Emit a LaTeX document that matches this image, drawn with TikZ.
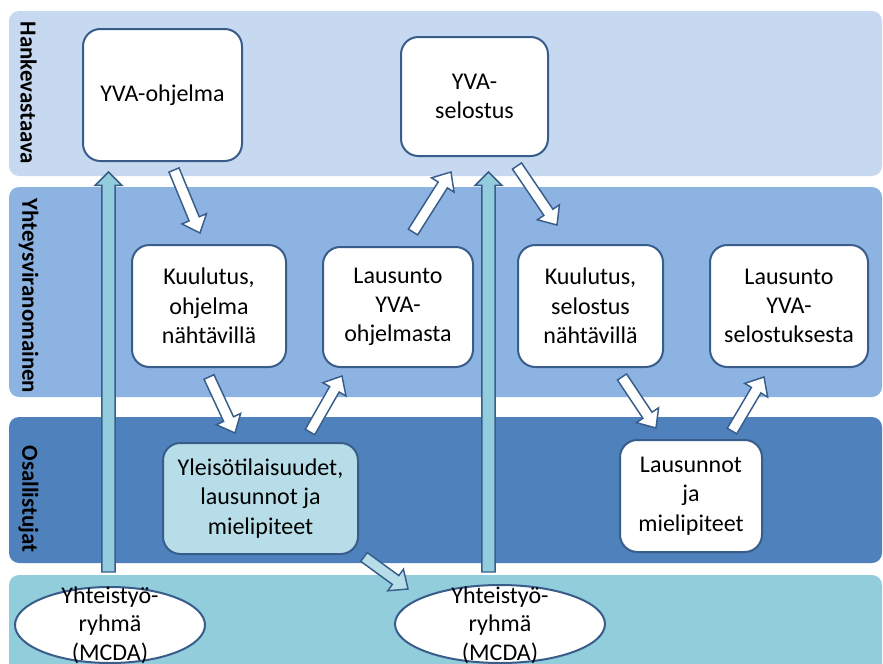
\documentclass[tikz,border=0pt]{standalone}
\usepackage{fontspec}
\setmainfont{Carlito}
\usetikzlibrary{calc,shapes.geometric}
\definecolor{bandA}{HTML}{C6D9F0}
\definecolor{bandB}{HTML}{8DB3E2}
\definecolor{bandC}{HTML}{4F81BD}
\definecolor{bandD}{HTML}{92CDDC}
\definecolor{edge}{HTML}{385D8A}
\definecolor{paleFill}{HTML}{B7DEE8}
\definecolor{vertFill}{HTML}{93CDDD}
\newcommand{\blockarr}[6]{% from, to, fill, half shaft, half head, head length (pt)
  \coordinate (ba-n) at ($(#2)!#6pt!(#1)$);
  \draw[barr,fill=#3] ($(#1)!#4pt!90:(#2)$) -- ($(ba-n)!#4pt!90:(#2)$) -- ($(ba-n)!#5pt!90:(#2)$) -- (#2) -- ($(ba-n)!#5pt!-90:(#2)$) -- ($(ba-n)!#4pt!-90:(#2)$) -- ($(#1)!#4pt!-90:(#2)$) -- cycle;}
\tikzset{
  band/.style={rounded corners=7.5pt, draw=none},
  sidelabel/.style={rotate=-90, font=\bfseries\fontsize{17.2}{21}\selectfont, text=black},
  box/.style 2 args={draw=edge, line width=1.5pt, fill=white, rounded corners=13pt,
     minimum width=#1*0.75pt, minimum height=#2*0.75pt, align=center,
     font=\fontsize{18}{22}\selectfont, inner sep=0pt},
  ell/.style 2 args={ellipse, draw=edge, line width=1.5pt, fill=white,
     minimum width=#1*0.75pt, minimum height=#2*0.75pt, inner sep=0pt},
  elltext/.style={align=center, font=\fontsize{18}{21.5}\selectfont, inner sep=0pt},
  barr/.style={draw=edge, line width=1.1pt, line join=miter},
}
\begin{document}
\begin{tikzpicture}[x=0.75pt,y=-0.75pt]
\useasboundingbox (0,0) rectangle (883,664);
\clip (0,0) rectangle (883,664);
% bands
\fill[band, bandA] (9,11) rectangle (882,176);
\fill[band, bandB] (9,187) rectangle (882,397);
\fill[band, bandC] (9,417) rectangle (882,563);
\fill[band, bandD] (9,575) rectangle (882,720);
% side labels
\node[sidelabel] (lh) at (28.5,93) {Hankevastaava};
\node[sidelabel] (ly) at (28.5,296) {Yhteysviranomainen};
\node[sidelabel] (lo) at (28.5,499) {Osallistujat};
% boxes
\node[box={159}{132}] (ohj) at (162.5,95) {YVA-ohjelma};
\node[box={147}{119}] (sel) at (474.5,96.5) {YVA-\\selostus};
\node[box={154}{122}] (kuu1) at (209,306) {Kuulutus,\\ohjelma\\nähtävillä};
\node[box={150}{120}] (lau1) at (398,307) {Lausunto\\YVA-\\ohjelmasta};
\node[box={145}{122}] (kuu2) at (590.5,306) {Kuulutus,\\selostus\\nähtävillä};
\node[box={158}{122}] (lau2) at (789,306) {Lausunto\\YVA-\\selostuksesta};
\node[box={195}{111}, fill=paleFill] (yle) at (260.5,498.5) {Yleisötilaisuudet,\\lausunnot ja\\mielipiteet};
\node[box={142}{112}] (lsn) at (691,496) {Lausunnot\\ja\\mielipiteet};
% ellipses
\node[ell={190}{76}] (e1) at (110,625) {};
\node[elltext] (e1t) at (110,625) {Yhteistyö-\\ryhmä\\(MCDA)};
\node[ell={210}{78}] (e2) at (500,624) {};
\node[elltext] (e2t) at (500,625) {Yhteistyö-\\ryhmä\\(MCDA)};
% arrow end coordinates
\coordinate (v1a) at (108.5,572); \coordinate (v1b) at (108.5,172);
\coordinate (v2a) at (488.5,572); \coordinate (v2b) at (488.5,172);
\coordinate (a1a) at (174,170); \coordinate (a1b) at (200,233);
\coordinate (a2a) at (209,377); \coordinate (a2b) at (235,433);
\coordinate (a3a) at (310,432); \coordinate (a3b) at (342,376);
\coordinate (a4a) at (413,232); \coordinate (a4b) at (451,172);
\coordinate (a5a) at (517,166); \coordinate (a5b) at (557,225);
\coordinate (a6a) at (622,377); \coordinate (a6b) at (656,428);
\coordinate (a7a) at (732,431); \coordinate (a7b) at (764,377);
\coordinate (a8a) at (364,557); \coordinate (a8b) at (408,589);
% vertical arrows
\blockarr{v1a}{v1b}{vertFill}{4.9}{10}{10}
\blockarr{v2a}{v2b}{vertFill}{4.9}{10}{10}
% diagonal arrows
\blockarr{a1a}{a1b}{white}{4.1}{10}{11.5}
\blockarr{a2a}{a2b}{white}{4.1}{10}{11.5}
\blockarr{a3a}{a3b}{white}{4.1}{10}{11.5}
\blockarr{a4a}{a4b}{white}{4.1}{10}{11.5}
\blockarr{a5a}{a5b}{white}{4.1}{10}{11.5}
\blockarr{a6a}{a6b}{white}{4.1}{10}{11.5}
\blockarr{a7a}{a7b}{white}{4.1}{10}{11.5}
\blockarr{a8a}{a8b}{paleFill}{4.1}{10}{11.5}
\end{tikzpicture}
\end{document}
